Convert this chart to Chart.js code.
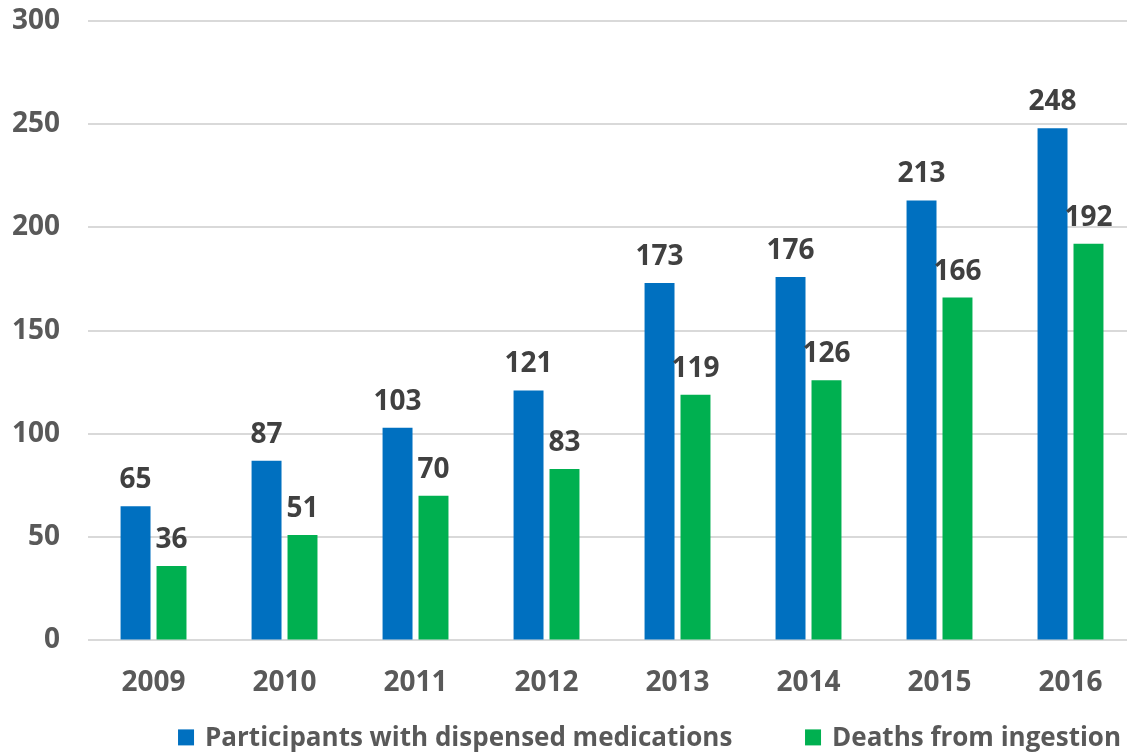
<!DOCTYPE html>
<html>
<head>
<meta charset="utf-8">
<script src="https://cdn.jsdelivr.net/npm/chart.js@4"></script>
<style>
  html, body { margin: 0; padding: 0; background: #fff; overflow: hidden; width: 1127px; height: 753px; }
  #wrap { position: absolute; left: -26px; top: -24px; width: 1162px; height: 792px; }
</style>
</head>
<body>
<div id="wrap"><canvas id="chart"></canvas></div>
<script>
const years = ['2009', '2010', '2011', '2012', '2013', '2014', '2015', '2016'];
const participants = [65, 87, 103, 121, 173, 176, 213, 248];
const deaths = [36, 51, 70, 83, 119, 126, 166, 192];
const yTicks = [0, 50, 100, 150, 200, 250, 300];

const FONT = '"Open Sans", sans-serif';

// value labels above each bar
const barValues = {
  id: 'barValues',
  afterDatasetsDraw(chart) {
    const ctx = chart.ctx;
    ctx.save();
    ctx.font = `700 28px ${FONT}`;
    ctx.fillStyle = '#404040';
    ctx.textAlign = 'center';
    ctx.textBaseline = 'alphabetic';
    chart.data.datasets.forEach((ds, i) => {
      chart.getDatasetMeta(i).data.forEach((bar, j) => {
        ctx.fillText(ds.data[j], bar.x, bar.y - 18);
      });
    });
    ctx.restore();
  }
};

// legend row under the axis labels
const bottomLegend = {
  id: 'bottomLegend',
  afterDraw(chart) {
    const ctx = chart.ctx;
    const area = chart.chartArea;
    const y = area.bottom + 97;
    const starts = [area.left + 90, area.left + 717];
    ctx.save();
    ctx.font = `700 26px ${FONT}`;
    ctx.textBaseline = 'middle';
    chart.data.datasets.forEach((ds, i) => {
      const x = starts[i];
      ctx.fillStyle = ds.backgroundColor;
      ctx.fillRect(x, y - 8, 16, 16);
      ctx.fillStyle = '#595959';
      ctx.fillText(ds.label, x + 27, y + 1);
    });
    ctx.restore();
  }
};

new Chart(document.getElementById('chart'), {
  type: 'bar',
  data: {
    labels: years,
    datasets: [
      { label: 'Participants with dispensed medications', data: participants, backgroundColor: '#0070C0' },
      { label: 'Deaths from ingestion', data: deaths, backgroundColor: '#00B050' }
    ]
  },
  options: {
    responsive: true,
    maintainAspectRatio: false,
    animation: false,
    layout: { padding: { left: 10, right: 0, top: 5, bottom: 50 } },
    datasets: { bar: { barPercentage: 0.833, categoryPercentage: 0.549 } },
    plugins: {
      legend: { display: false },
      tooltip: { enabled: false }
    },
    scales: {
      x: {
        grid: { display: false },
        border: { display: false },
        ticks: { color: '#595959', font: { family: FONT, size: 28, weight: '700' }, padding: 18 }
      },
      y: {
        min: 0,
        max: 300,
        afterBuildTicks: axis => { axis.ticks = yTicks.map(v => ({ value: v })); },
        grid: { color: '#d9d9d9', lineWidth: 2, drawTicks: false },
        border: { display: false },
        ticks: { color: '#595959', font: { family: FONT, size: 28, weight: '700' }, padding: 28 }
      }
    }
  },
  plugins: [barValues, bottomLegend]
});
</script>
</body>
</html>
